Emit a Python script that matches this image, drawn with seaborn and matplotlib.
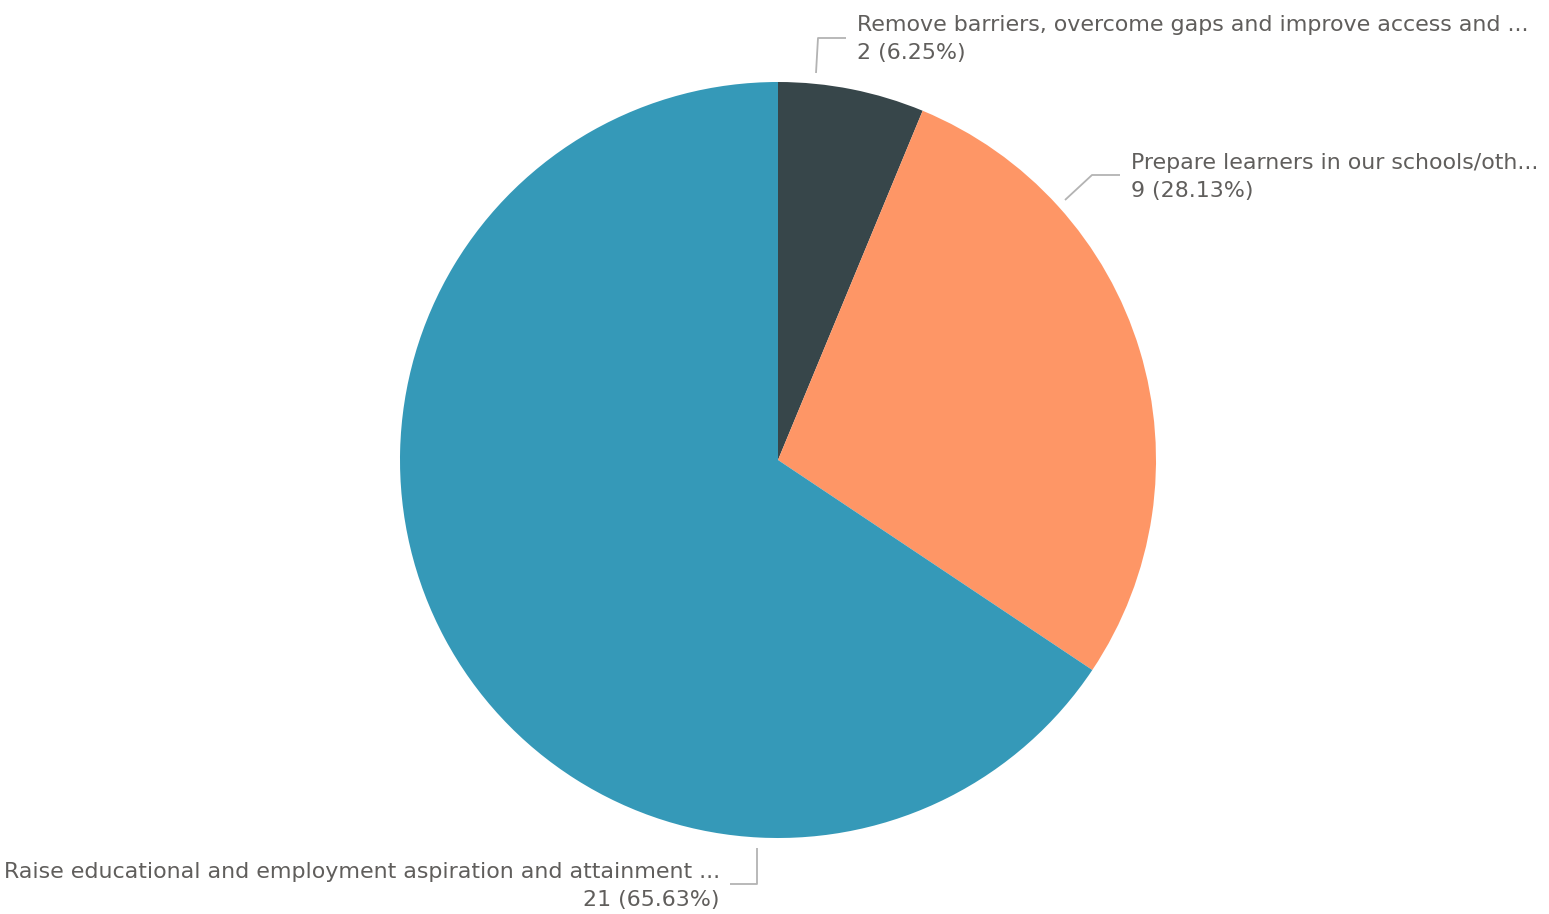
import matplotlib
matplotlib.use("Agg")
import matplotlib.pyplot as plt
import seaborn as sns

#-------------------
# DATA
#-------------------

categories = [
    "Remove barriers, overcome gaps and improve access and ...",
    "Prepare learners in our schools/oth...",
    "Raise educational and employment aspiration and attainment ...",
]
counts = [2, 9, 21]
percent_labels = ["2 (6.25%)", "9 (28.13%)", "21 (65.63%)"]
colors = ["#37464A", "#FE9666", "#3599B8"]

#-------------------
# PLOT
#-------------------

sns.set_theme(style="white")
plt.rcParams['font.family'] = ['DejaVu Sans']

W, H = 1549, 914
fig = plt.figure(figsize=(W / 100, H / 100), dpi=100)
ax = fig.add_axes([0, 0, 1, 1])

# pie in pixel coords, y axis points down
ax.pie(counts, colors=sns.color_palette(colors), center=(778, 460), radius=378,
       startangle=-90, counterclock=True, frame=False,
       wedgeprops=dict(linewidth=0))
ax.set_xlim(0, W)
ax.set_ylim(H, 0)
ax.set_aspect('equal')
ax.axis('off')

txt_color = "#605E5C"
line_color = "#B3B3B3"
fs = 15.9

# leader lines: (points), text anchor, alignment
leaders = [
    ([(816, 73), (818, 38), (846, 38)], (857, 25), 'left'),
    ([(1065, 200), (1092, 175), (1120, 175)], (1131, 163), 'left'),
    ([(757, 848), (757, 884), (730, 884)], (720, 872), 'right'),
]

for (pts, (tx, ty), ha), cat, lab in zip(leaders, categories, percent_labels):
    xs, ys = zip(*pts)
    ax.plot(xs, ys, color=line_color, lw=1.3, solid_capstyle='butt')
    ax.text(tx, ty, cat, ha=ha, va='center', fontsize=fs, color=txt_color)
    ax.text(tx, ty + 28, lab, ha=ha, va='center', fontsize=fs, color=txt_color)

fig.savefig("out.png", dpi=100)
